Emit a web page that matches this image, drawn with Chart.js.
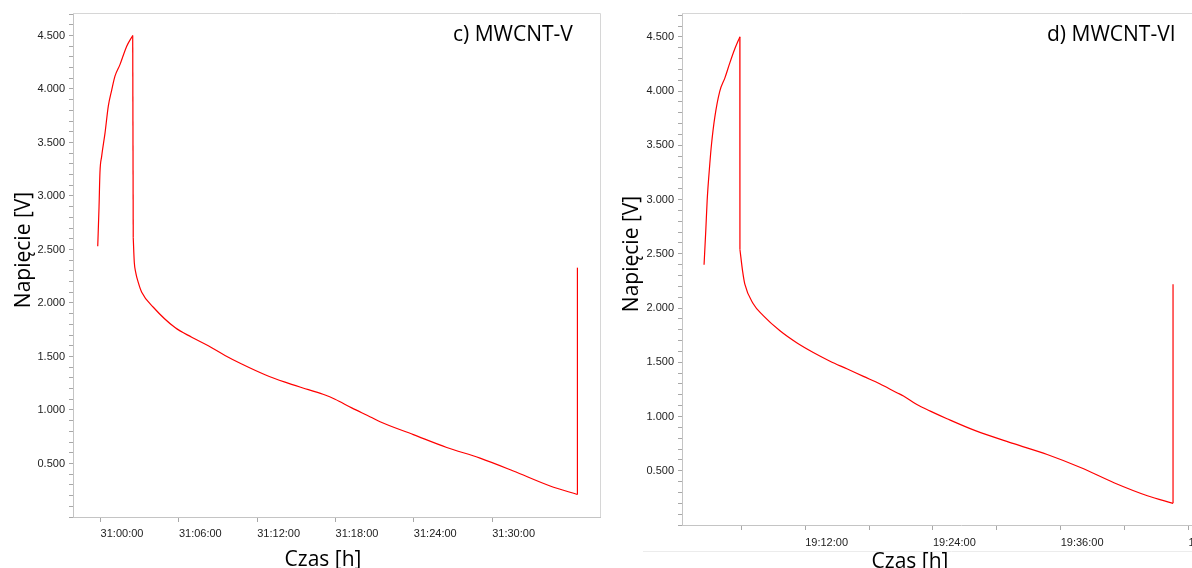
<!DOCTYPE html>
<html>
<head>
<meta charset="utf-8">
<script src="https://cdn.jsdelivr.net/npm/chart.js@4/dist/chart.umd.min.js"></script>
<style>
  html, body { margin: 0; padding: 0; background: #fff; overflow: hidden; width: 1192px; height: 568px; }
  .panel { position: absolute; top: 0; height: 568px; }
  #panelC { left: 0; width: 610px; }
  #panelD { left: 600px; width: 660px; }
</style>
</head>
<body>
<div class="panel" id="panelC"><canvas id="chartC"></canvas></div>
<div class="panel" id="panelD"><canvas id="chartD"></canvas></div>
<script>
// c) MWCNT-V : minutes after 31:00:00, voltage [V]
const timeC = [-0.22, -0.12, -0.05, 0.08, 0.34, 0.59, 0.85, 1.10, 1.49, 2.00, 2.46,
  2.50, 2.58, 2.70, 2.89, 3.15, 4.04, 5.70, 6.98, 8.25, 9.53, 10.81, 12.60, 14.13,
  15.92, 17.20, 17.96, 19.24, 20.77, 21.41, 23.96, 26.52, 29.07, 31.62, 34.44, 36.53, 36.53];
const voltC = [2.53, 2.90, 3.22, 3.37, 3.59, 3.84, 3.99, 4.12, 4.23, 4.40, 4.50,
  2.61, 2.38, 2.28, 2.19, 2.10, 1.96, 1.77, 1.68, 1.60, 1.51, 1.43, 1.33, 1.26,
  1.19, 1.14, 1.10, 1.02, 0.93, 0.89, 0.77, 0.65, 0.55, 0.43, 0.29, 0.21, 2.33];

// d) MWCNT-VI : minutes after 19:00:00, voltage [V]
const timeD = [2.50, 2.66, 2.79, 3.04, 3.20, 3.51, 3.98, 4.45, 4.92, 5.39, 5.86,
  5.87, 6.12, 6.33, 7.12, 8.06, 9.63, 11.20, 12.76, 14.33, 15.91, 17.47, 19.04,
  20.61, 21.23, 22.49, 23.75, 25.32, 27.98, 31.59, 34.73, 37.86, 41.00, 44.14, 46.55, 46.55];
const voltD = [2.40, 2.71, 2.99, 3.33, 3.51, 3.76, 4.00, 4.12, 4.26, 4.39, 4.50,
  2.54, 2.34, 2.22, 2.04, 1.93, 1.79, 1.68, 1.59, 1.51, 1.44, 1.37, 1.30,
  1.22, 1.19, 1.11, 1.05, 0.98, 0.87, 0.75, 0.65, 0.53, 0.39, 0.27, 0.20, 2.22];

// time axis ticks (minutes) and which of them carry a label
const ticksC = [0, 6, 12, 18, 24, 30];
const labelEveryC = 6;
const hourC = 31;
const ticksD = [6, 12, 18, 24, 30, 36, 42, 48];
const labelEveryD = 12;
const hourD = 19;

const TICK_FONT = { family: '"Liberation Sans", Arial, sans-serif', size: 11 };
const TITLE_FONT = '"Open Sans", "DejaVu Sans", sans-serif';

function clock(hour, min) {
  return hour + ':' + String(Math.round(min)).padStart(2, '0') + ':00';
}

// charge, drop, discharge and final jump are drawn as separate pieces so the
// smooth parts can use monotone interpolation while the jumps stay straight
function pieces(time, volt) {
  const pts = time.map((t, i) => ({ x: t, y: volt[i] }));
  const peak = volt.indexOf(Math.max(...volt));
  const last = pts.length - 1;
  return [
    { data: pts.slice(0, peak + 1), smooth: true },
    { data: pts.slice(peak, peak + 2), smooth: false },
    { data: pts.slice(peak + 1, last), smooth: true },
    { data: pts.slice(last - 1), smooth: false }
  ].map(p => ({
    data: p.data,
    showLine: true,
    borderColor: '#ff0000',
    borderWidth: 1.2,
    pointRadius: 0,
    cubicInterpolationMode: p.smooth ? 'monotone' : 'default',
    tension: 0
  }));
}

// light frame on the top and right edge of the plot area
const framePlugin = {
  id: 'frame',
  beforeDatasetsDraw(chart) {
    const { ctx, chartArea: a } = chart;
    ctx.save();
    ctx.strokeStyle = '#d6d6d6';
    ctx.lineWidth = 1;
    ctx.beginPath();
    ctx.moveTo(a.left, Math.round(a.top) + 0.5);
    ctx.lineTo(a.right + 0.5, Math.round(a.top) + 0.5);
    ctx.lineTo(Math.round(a.right) + 0.5, a.bottom);
    ctx.stroke();
    ctx.restore();
  }
};

// panel title and axis captions
const captionPlugin = {
  id: 'captions',
  afterDraw(chart, args, opts) {
    const ctx = chart.ctx;
    ctx.save();
    (opts.rules || []).forEach(r => {
      ctx.strokeStyle = '#ececec';
      ctx.lineWidth = 1;
      ctx.beginPath();
      ctx.moveTo(r.x0, r.y + 0.5);
      ctx.lineTo(r.x1, r.y + 0.5);
      ctx.stroke();
    });
    ctx.fillStyle = '#000';
    ctx.textBaseline = 'alphabetic';
    (opts.items || []).forEach(it => {
      ctx.font = it.size + 'px ' + TITLE_FONT;
      ctx.textAlign = it.align || 'center';
      ctx.save();
      ctx.translate(it.x, it.y);
      if (it.rotate) ctx.rotate(-Math.PI / 2);
      ctx.fillText(it.text, 0, 0);
      ctx.restore();
    });
    ctx.restore();
  }
};

function makeChart(id, cfg) {
  return new Chart(document.getElementById(id), {
    type: 'scatter',
    data: { datasets: pieces(cfg.time, cfg.volt) },
    options: {
      responsive: true,
      maintainAspectRatio: false,
      animation: false,
      layout: { padding: cfg.padding },
      plugins: {
        legend: { display: false },
        tooltip: { enabled: false },
        captions: { items: cfg.captions, rules: cfg.rules }
      },
      scales: {
        x: {
          type: 'linear',
          min: cfg.xMin,
          max: cfg.xMax,
          afterBuildTicks: s => { s.ticks = cfg.ticks.map(v => ({ value: v })); },
          afterFit: s => { s.height = cfg.xHeight; },
          grid: { drawOnChartArea: false, drawTicks: true, tickLength: 5, tickColor: '#a8a8a8' },
          border: { color: '#c4c4c4' },
          ticks: {
            autoSkip: false,
            maxRotation: 0,
            align: 'start',
            padding: cfg.xPad,
            color: '#222',
            font: TICK_FONT,
            callback: v => (Math.round(v) % cfg.labelEvery === 0 ? clock(cfg.hour, v) : '')
          }
        },
        y: {
          min: 0,
          max: cfg.yMax,
          afterFit: s => { s.width = cfg.yWidth; },
          grid: { drawOnChartArea: false, drawTicks: true, tickLength: 4, tickColor: '#a8a8a8' },
          border: { color: '#c4c4c4' },
          ticks: {
            stepSize: 0.1,
            autoSkip: false,
            includeBounds: false,
            padding: 4,
            color: '#222',
            font: TICK_FONT,
            callback: v => {
              const k = Math.round(v * 10);
              return k > 0 && k % 5 === 0 ? (k / 10).toFixed(3) : '';
            }
          }
        }
      }
    },
    plugins: [framePlugin, captionPlugin]
  });
}

makeChart('chartC', {
  time: timeC, volt: voltC, ticks: ticksC, labelEvery: labelEveryC, hour: hourC,
  xMin: -2.115, xMax: 38.26, yMax: 4.71,
  yWidth: 73, xHeight: 51, xPad: 5,
  padding: { top: 13, right: 10, left: 0, bottom: 0 },
  captions: [
    { text: 'c) MWCNT-V', x: 453, y: 41, size: 21, align: 'left' },
    { text: 'Czas [h]', x: 323, y: 566, size: 21 },
    { text: 'Napięcie [V]', x: 30, y: 250, size: 21, rotate: true }
  ],
  rules: []
});

makeChart('chartD', {
  time: timeD, volt: voltD, ticks: ticksD, labelEvery: labelEveryD, hour: hourD,
  xMin: 0.428, xMax: 52.84, yMax: 4.72,
  yWidth: 82, xHeight: 43, xPad: 6,
  padding: { top: 13, right: 20, left: 0, bottom: 0 },
  captions: [
    { text: 'd) MWCNT-VI', x: 447, y: 41, size: 21, align: 'left' },
    { text: 'Czas [h]', x: 310, y: 568, size: 21 },
    { text: 'Napięcie [V]', x: 38, y: 254, size: 21, rotate: true }
  ],
  rules: [{ x0: 43, x1: 660, y: 551 }]
});
</script>
</body>
</html>
